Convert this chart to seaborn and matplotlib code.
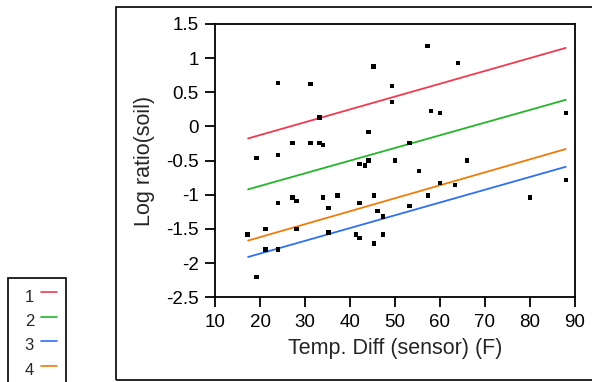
import matplotlib
matplotlib.use("Agg")
import matplotlib.pyplot as plt
from matplotlib.patches import Rectangle
from matplotlib.lines import Line2D
import pandas as pd
import seaborn as sns

# scatter points
temp_diff = [17.2, 19.2, 19.2, 21.2, 21.2, 24.0, 24.0, 24.0, 24.0, 27.2,
             27.2, 28.1, 28.1, 31.2, 31.2, 33.2, 33.2, 34.0, 34.0, 35.2,
             35.2, 37.2, 41.3, 42.1, 42.1, 42.1, 43.3, 44.1, 44.1, 45.2,
             45.3, 45.3, 46.1, 47.3, 47.3, 49.3, 49.3, 50.0, 53.2, 53.2,
             55.3, 57.2, 57.3, 58.0, 60.0, 60.0, 63.3, 64.0, 66.0, 80.0,
             88.1, 88.1]
log_ratio = [-1.58, -0.46, -2.20, -1.50, -1.80, 0.64, -0.42, -1.12, -1.80, -0.24,
             -1.04, -1.09, -1.50, 0.62, -0.24, 0.13, -0.24, -0.27, -1.04, -1.19,
             -1.55, -1.01, -1.58, -0.55, -1.12, -1.63, -0.57, -0.08, -0.50, 0.88,
             -1.01, -1.71, -1.24, -1.32, -1.58, 0.59, 0.36, -0.50, -0.24, -1.16,
             -0.65, 1.18, -1.01, 0.23, 0.20, -0.83, -0.86, 0.93, -0.50, -1.04,
             0.20, -0.78]

# fitted lines per group (start / end)
groups = ["1", "2", "3", "4"]
line_x = [17.3, 88.0]
line_start = [-0.175, -0.92, -1.91, -1.67]
line_end = [1.15, 0.39, -0.59, -0.33]
colors = ["#f03a50", "#25b52c", "#2f6ff2", "#ef7b0a"]

pts = pd.DataFrame({"temp": temp_diff, "ratio": log_ratio})
lines = pd.DataFrame({
    "temp": line_x * len(groups),
    "ratio": [v for s, e in zip(line_start, line_end) for v in (s, e)],
    "group": [g for g in groups for _ in line_x],
})

sns.set_style("white")
plt.rcParams["font.family"] = ["Liberation Sans", "DejaVu Sans"]

fig = plt.figure(figsize=(5.92, 3.82), dpi=100)
ax = fig.add_axes([215.3 / 592, 1 - 297.3 / 382, (574.7 - 215.3) / 592, (297.3 - 24) / 382])

sns.lineplot(data=lines, x="temp", y="ratio", hue="group", hue_order=groups,
             palette=colors, linewidth=1.3, legend=False, ax=ax)
sns.scatterplot(data=pts, x="temp", y="ratio", marker="s", s=10, color="black",
                edgecolor="none", ax=ax, zorder=3)

ax.set_xlim(10, 90)
ax.set_ylim(-2.5, 1.5)
ax.set_xticks(range(10, 91, 10))
ax.set_yticks([1.5, 1, 0.5, 0, -0.5, -1, -1.5, -2, -2.5])
ax.set_yticklabels(["1.5", "1", "0.5", "0", "-0.5", "-1", "-1.5", "-2", "-2.5"])
ax.tick_params(direction="out", length=7, width=1.3, labelsize=13.5, colors="black",
               left=True, bottom=True, pad=5)
for sp in ax.spines.values():
    sp.set_linewidth(1.3)
    sp.set_color("black")
ax.set_xlabel("Temp. Diff (sensor) (F)", fontsize=15.5, labelpad=5)
ax.set_ylabel("Log ratio(soil)", fontsize=15.5, labelpad=8)

# outer frame
fig.patches.append(Rectangle((116 / 592, 2 / 382), 0.9, 373 / 382, transform=fig.transFigure,
                             fill=False, edgecolor="black", linewidth=1.2))

# legend box
fig.patches.append(Rectangle((8 / 592, -0.05), 58 / 592, 1 - 278 / 382 + 0.05,
                             transform=fig.transFigure, fill=False, edgecolor="black",
                             linewidth=1.2))
for i, (g, c) in enumerate(zip(groups, colors)):
    yy = 1 - (297 + i * 24.5) / 382
    fig.text(34 / 592, yy, g, ha="right", va="center", fontsize=12)
    fig.lines.append(Line2D([41 / 592, 57 / 592], [yy + 0.012, yy + 0.012],
                            transform=fig.transFigure, color=c, linewidth=1.2))

fig.savefig("out.png", dpi=100)
